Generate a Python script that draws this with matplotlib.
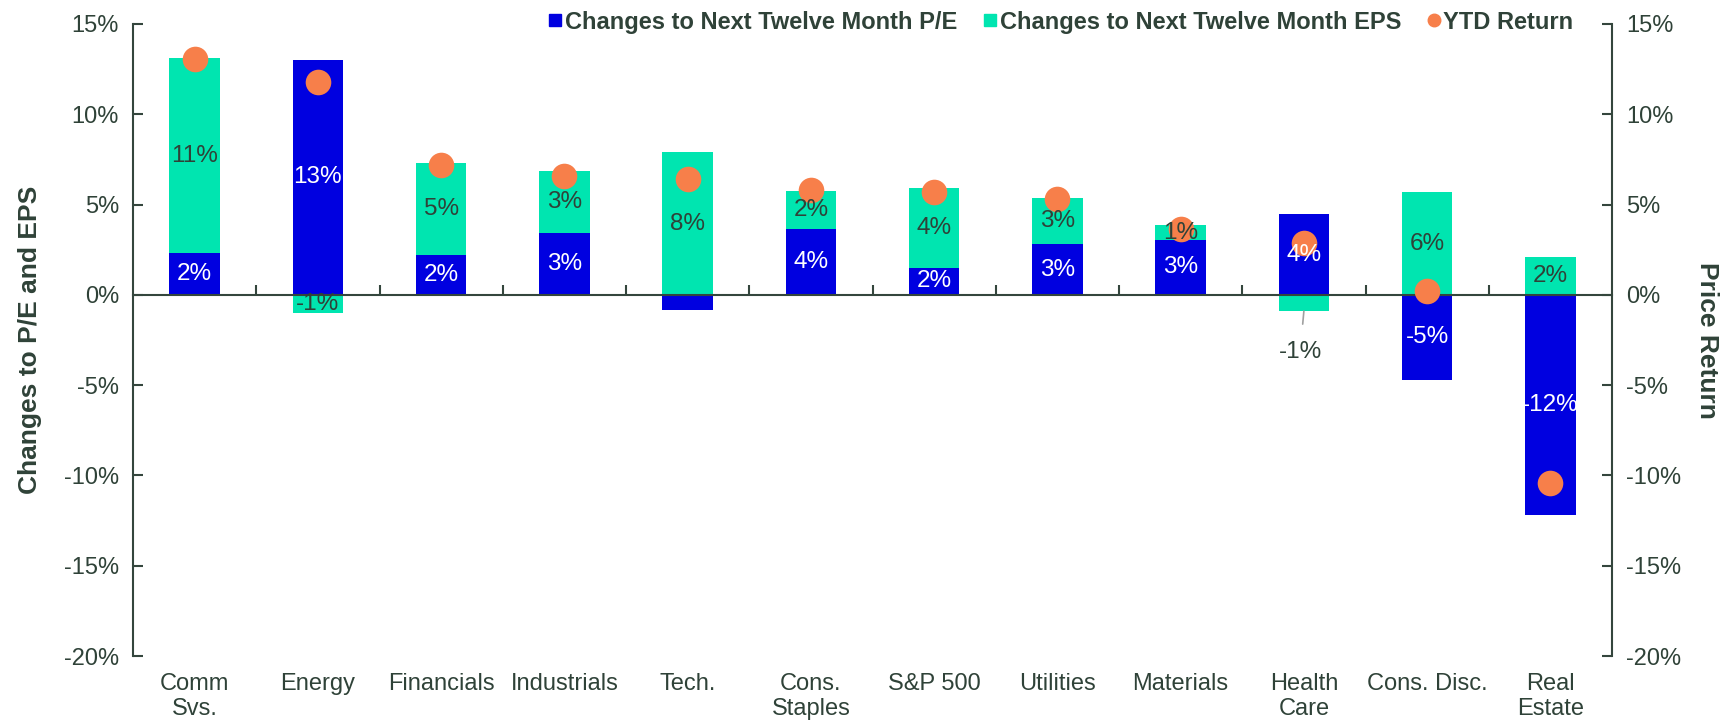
import numpy as np
import matplotlib.pyplot as plt
from matplotlib.lines import Line2D
from matplotlib.transforms import blended_transform_factory

plt.rcParams['font.family'] = ['Liberation Sans', 'DejaVu Sans']

# Data (percent)
sectors = ['Comm\nSvs.', 'Energy', 'Financials', 'Industrials', 'Tech.', 'Cons.\nStaples',
           'S&P 500', 'Utilities', 'Materials', 'Health\nCare', 'Cons. Disc.', 'Real\nEstate']
pe_change = [2.3, 13.0, 2.2, 3.4, -0.85, 3.66, 1.5, 2.8, 3.05, 4.45, -4.7, -12.2]
eps_change = [10.8, -1.0, 5.1, 3.45, 7.9, 2.07, 4.4, 2.56, 0.8, -0.9, 5.67, 2.1]
ytd_return = [13.05, 11.8, 7.2, 6.6, 6.4, 5.8, 5.67, 5.3, 3.66, 2.87, 0.24, -10.4]

BLUE = '#0000e0'
GREEN = '#00e5b0'
ORANGE = '#f77f4a'
TEXT = '#2f4238'
AXIS = '#34463d'

pe = np.array(pe_change)
eps = np.array(eps_change)
x = np.arange(len(sectors))

# Excel-style stacking: positives up, negatives down
pe_bottom = np.zeros_like(pe)
eps_bottom = np.where((eps >= 0) == (pe >= 0), pe, 0.0)

fig = plt.figure(figsize=(17.25, 7.22), dpi=100)
ax = fig.add_axes([0.0771, 0.0914, 0.8574, 0.8754])

width = 0.41
ax.bar(x, pe, width, bottom=pe_bottom, color=BLUE, zorder=2)
ax.bar(x, eps, width, bottom=eps_bottom, color=GREEN, zorder=2)
ax.scatter(x, ytd_return, s=340, color=ORANGE, zorder=4, linewidths=0)

# Segment labels
fs = 17.5
for i in range(len(x)):
    if i != 4:  # Tech P/E label not shown
        ax.text(x[i], pe_bottom[i] + pe[i] / 2, f'{pe[i]:.0f}%', ha='center', va='center',
                color='white', fontsize=fs, zorder=5)
    ey = eps_bottom[i] + eps[i] / 2
    if i == 9:
        ax.annotate(f'{eps[i]:.0f}%', xy=(x[i], eps_bottom[i] + eps[i]),
                    xytext=(x[i] - 0.03, -3.15), ha='center', va='center', color=TEXT,
                    fontsize=fs, zorder=5,
                    arrowprops=dict(arrowstyle='-', color='#a0a0a0', lw=1.2,
                                    shrinkA=10, shrinkB=0))
    else:
        ax.text(x[i], ey, f'{eps[i]:.0f}%', ha='center', va='center',
                color=TEXT, fontsize=fs, zorder=5)

ax.set_xlim(-0.5, len(x) - 0.5)
ax.set_ylim(-20, 15)
ax.set_yticks(np.arange(-20, 16, 5))
ax.set_yticklabels([f'{v}%' for v in range(-20, 16, 5)])

ax.spines['top'].set_visible(False)
ax.spines['right'].set_visible(False)
ax.spines['left'].set_color(AXIS)
ax.spines['left'].set_linewidth(1.5)
ax.spines['bottom'].set_position(('data', 0))
ax.spines['bottom'].set_color(AXIS)
ax.spines['bottom'].set_linewidth(1.5)
ax.spines['bottom'].set_zorder(3)

ax.set_xticks([])
ax.set_xticks(np.arange(0.5, len(x) - 0.5, 1), minor=True)
ax.tick_params(axis='x', which='minor', direction='in', length=7, width=1.5, color=AXIS,
               labelbottom=False)
ax.tick_params(axis='y', direction='in', length=7, width=1.5, color=AXIS,
               labelcolor=TEXT, labelsize=17, pad=10)

trans = blended_transform_factory(ax.transData, ax.transAxes)
for xi, name in zip(x, sectors):
    ax.text(xi, -0.027, name, transform=trans, ha='center', va='top', color=TEXT,
            fontsize=17, linespacing=1.18)

ax.set_ylabel('Changes to P/E and EPS', fontsize=19, fontweight='bold', color=TEXT,
              labelpad=16)

ax2 = ax.twinx()
ax2.set_ylim(-20, 15)
ax2.set_yticks(np.arange(-20, 16, 5))
ax2.set_yticklabels([f'{v}%' for v in range(-20, 16, 5)])
for s in ['top', 'left', 'bottom']:
    ax2.spines[s].set_visible(False)
ax2.spines['right'].set_color(AXIS)
ax2.spines['right'].set_linewidth(1.5)
ax2.tick_params(axis='y', direction='in', length=7, width=1.5, color=AXIS,
                labelcolor=TEXT, labelsize=17, pad=10)
ax2.set_ylabel('Price Return', fontsize=19, fontweight='bold', color=TEXT,
               rotation=270, labelpad=27)

handles = [
    Line2D([], [], marker='s', linestyle='none', color=BLUE, markersize=9),
    Line2D([], [], marker='s', linestyle='none', color=GREEN, markersize=9),
    Line2D([], [], marker='o', linestyle='none', color=ORANGE, markersize=9),
]
labels = ['Changes to Next Twelve Month P/E', 'Changes to Next Twelve Month EPS', 'YTD Return']
ax2.legend(handles, labels, loc='center right', bbox_to_anchor=(0.974, 1.003), ncol=3,
           frameon=False, handletextpad=-0.1, columnspacing=0.9, handlelength=1.0,
           borderpad=0, borderaxespad=0,
           prop={'weight': 'bold', 'size': 17}, labelcolor=TEXT)

fig.savefig('out.png', dpi=100)
